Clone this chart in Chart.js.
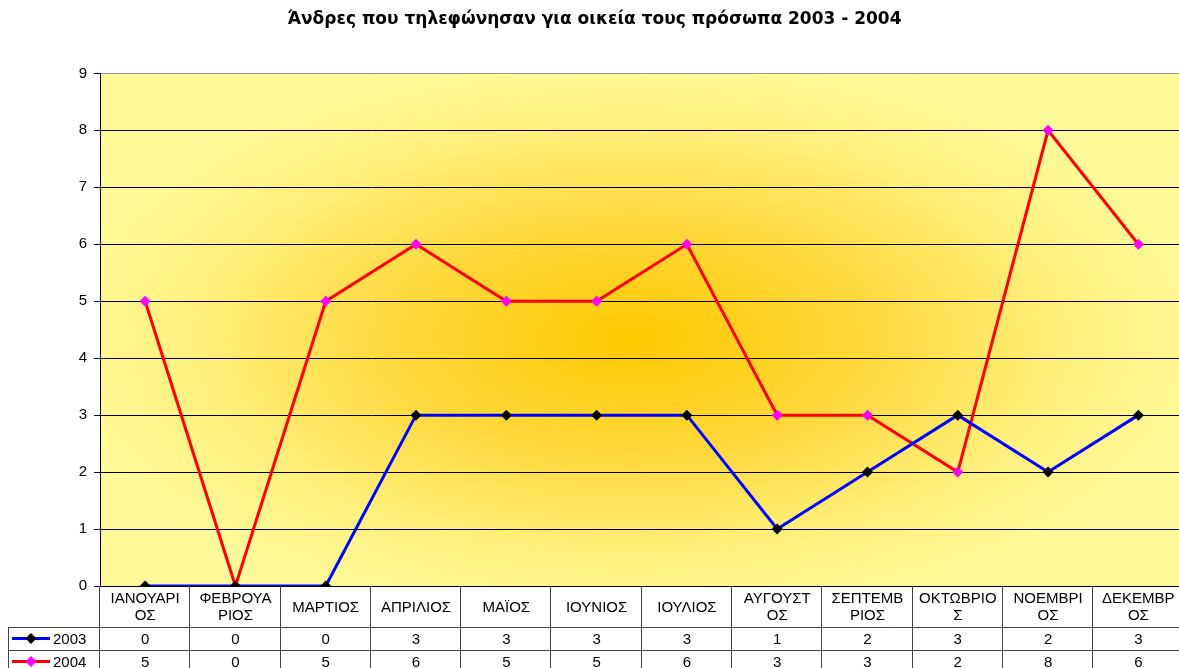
<!DOCTYPE html>
<html><head><meta charset="utf-8">
<script src="https://cdn.jsdelivr.net/npm/chart.js@4/dist/chart.umd.min.js"></script>
<style>html,body{margin:0;padding:0;overflow:hidden;background:#fff}
#wrap{width:1189px;height:668px;position:relative}</style></head>
<body><div id="wrap"><canvas id="c" width="1189" height="668"></canvas></div>
<script>
const titleText = "Άνδρες που τηλεφώνησαν για οικεία τους πρόσωπα 2003 - 2004";
const categories = ["ΙΑΝΟΥΑΡΙΟΣ","ΦΕΒΡΟΥΑΡΙΟΣ","ΜΑΡΤΙΟΣ","ΑΠΡΙΛΙΟΣ","ΜΑΪΟΣ","ΙΟΥΝΙΟΣ","ΙΟΥΛΙΟΣ","ΑΥΓΟΥΣΤΟΣ","ΣΕΠΤΕΜΒΡΙΟΣ","ΟΚΤΩΒΡΙΟΣ","ΝΟΕΜΒΡΙΟΣ","ΔΕΚΕΜΒΡΙΟΣ"];
const categoryLines = [["ΙΑΝΟΥΑΡΙ","ΟΣ"],["ΦΕΒΡΟΥΑ","ΡΙΟΣ"],["ΜΑΡΤΙΟΣ"],["ΑΠΡΙΛΙΟΣ"],["ΜΑΪΟΣ"],["ΙΟΥΝΙΟΣ"],["ΙΟΥΛΙΟΣ"],["ΑΥΓΟΥΣΤ","ΟΣ"],["ΣΕΠΤΕΜΒ","ΡΙΟΣ"],["ΟΚΤΩΒΡΙΟ","Σ"],["ΝΟΕΜΒΡΙ","ΟΣ"],["ΔΕΚΕΜΒΡ","ΟΣ"]];
const seriesNames = ["2003","2004"];
const values2003 = [0,0,0,3,3,3,3,1,2,3,2,3];
const values2004 = [5,0,5,6,5,5,6,3,3,2,8,6];
const yMin = 0, yMax = 9, yStep = 1;

const FONT = "'Liberation Sans', Arial, sans-serif";
const lineColors = ["#0000FF","#FF0000"];
const markerColors = ["#000000","#FF00FF"];

const bgPlugin = {
  id:'bg',
  beforeDraw(chart){
    const {ctx, chartArea:a} = chart;
    const cx = (a.left+a.right)/2 - 10, cy = (a.top+a.bottom)/2 + 10;
    const rx = a.width/2 + 40, ry = a.height/2 + 30;
    ctx.save();
    ctx.beginPath(); ctx.rect(a.left,a.top,a.width,a.height); ctx.clip();
    ctx.fillStyle = '#FFFA99';
    ctx.fillRect(a.left,a.top,a.width,a.height);
    ctx.translate(cx,cy); ctx.scale(1, ry/rx);
    const g = ctx.createRadialGradient(0,0,0,0,0,rx);
    g.addColorStop(0,'#FFC800');
    g.addColorStop(0.4,'#FFD83A');
    g.addColorStop(0.75,'#FFF07E');
    g.addColorStop(1,'#FFFA99');
    ctx.fillStyle = g;
    ctx.fillRect(-rx-50,-rx-50,2*rx+100,2*rx+100);
    ctx.restore();
  }
};

function diamond(ctx,x,y,r,color){
  ctx.beginPath(); ctx.moveTo(x,y-r); ctx.lineTo(x+r,y); ctx.lineTo(x,y+r); ctx.lineTo(x-r,y); ctx.closePath();
  ctx.fillStyle=color; ctx.fill();
}

const tablePlugin = {
  id:'table',
  afterDraw(chart){
    const {ctx, chartArea:a, scales:{x}} = chart;
    const r0 = a.bottom, r1 = r0+41, r2 = r1+23, r3 = r2+23;
    const w = a.width/categories.length;
    ctx.save();
    ctx.strokeStyle = '#444'; ctx.lineWidth = 1;
    ctx.beginPath();
    ctx.moveTo(8, Math.round(r1)+0.5); ctx.lineTo(a.right, Math.round(r1)+0.5);
    ctx.moveTo(8, Math.round(r2)+0.5); ctx.lineTo(a.right, Math.round(r2)+0.5);
    ctx.moveTo(8.5, r1); ctx.lineTo(8.5, r3);
    for(let i=0;i<=categories.length;i++){
      const xx = Math.round(a.left + i*w) - 0.5;
      ctx.moveTo(xx, r0); ctx.lineTo(xx, r3);
    }
    ctx.stroke();
    ctx.fillStyle = '#000'; ctx.font = '15px '+FONT;
    ctx.textAlign='center'; ctx.textBaseline='middle';
    categories.forEach((c,i)=>{
      const cxp = x.getPixelForValue(i);
      const lines = categoryLines[i];
      const mid = (r0+r1)/2;
      lines.forEach((t,j)=>{
        const y = mid + (j - (lines.length-1)/2)*17 + 1;
        ctx.fillText(t, cxp, y);
      });
      ctx.fillText(String(values2003[i]), cxp, (r1+r2)/2+1);
      ctx.fillText(String(values2004[i]), cxp, (r2+r3)/2+1);
    });
    [[r1,r2],[r2,r3]].forEach(([t,b],k)=>{
      const y = (t+b)/2;
      ctx.strokeStyle = lineColors[k]; ctx.lineWidth = 3;
      ctx.beginPath(); ctx.moveTo(12,y); ctx.lineTo(50,y); ctx.stroke();
      diamond(ctx,31,y,5.5,markerColors[k]);
      ctx.fillStyle='#000'; ctx.textAlign='left';
      ctx.fillText(seriesNames[k], 53, y+1);
    });
    ctx.restore();
  }
};

new Chart(document.getElementById('c'), {
  type:'line',
  data:{
    labels: categories,
    datasets:[
      {label:seriesNames[0], data:values2003, borderColor:lineColors[0], borderWidth:3,
       pointStyle:'rectRot', pointRadius:5.5, pointBackgroundColor:markerColors[0], pointBorderColor:markerColors[0], pointBorderWidth:0, tension:0},
      {label:seriesNames[1], data:values2004, borderColor:lineColors[1], borderWidth:3,
       pointStyle:'rectRot', pointRadius:5.5, pointBackgroundColor:markerColors[1], pointBorderColor:markerColors[1], pointBorderWidth:0, tension:0}
    ]
  },
  options:{
    responsive:false, animation:false, devicePixelRatio:1,
    layout:{padding:{left:0,right:0,top:0,bottom:82}},
    plugins:{
      legend:{display:false}, tooltip:{enabled:false},
      title:{display:true, text:titleText, color:'#000', font:{family:"'DejaVu Sans', Verdana, sans-serif", size:17, weight:'bold'}, lineHeight:1.2, padding:{top:9,bottom:44}}
    },
    scales:{
      x:{display:false, offset:true, grid:{offset:true}},
      y:{min:yMin, max:yMax, ticks:{stepSize:yStep, color:'#000', font:{family:FONT,size:15}, padding:7},
         border:{display:true,color:'#000',width:1},
         grid:{color:(c)=>c.tick && c.tick.value===yMax ? '#999' : '#000', lineWidth:1, tickLength:6, tickColor:'#000', drawTicks:true},
         afterFit(s){ s.width = 100; }
      }
    }
  },
  plugins:[bgPlugin, tablePlugin]
});
</script></body></html>
